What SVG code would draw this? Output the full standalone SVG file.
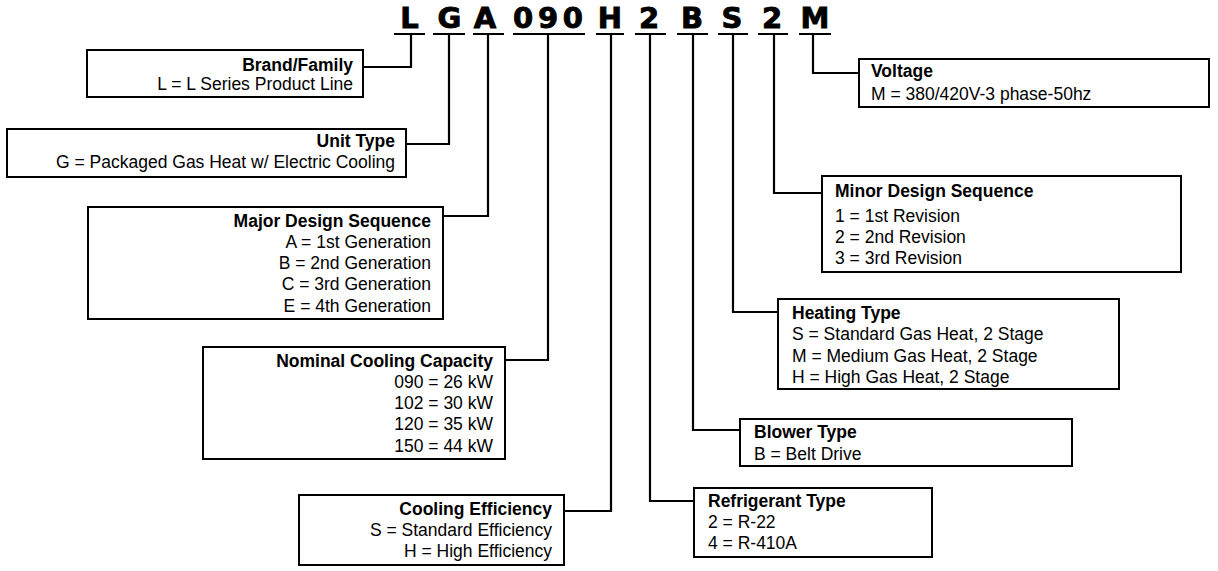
<svg xmlns="http://www.w3.org/2000/svg" width="1218" height="571" viewBox="0 0 1218 571">
<style>
.code{font-family:"DejaVu Sans",Verdana,sans-serif;font-weight:bold;font-size:29px;fill:#000;stroke:#000;stroke-width:0.9;text-anchor:middle}
.box{fill:#fff;stroke:#000;stroke-width:2}
.t{font-family:"Liberation Sans",Arial,sans-serif;font-size:17.5px;fill:#000}
.b{font-weight:bold}
.r{text-anchor:end}
.ul{stroke:#000;stroke-width:2;fill:none}
.c{stroke:#000;stroke-width:2.2;fill:none}
</style>
<rect width="1218" height="571" fill="#fff"/>
<g id="code">
<text class="code" x="409.5" y="28">L</text>
<text class="code" x="449.5" y="28">G</text>
<text class="code" x="485" y="28">A</text>
<text class="code" x="548" y="28" textLength="70" lengthAdjust="spacing">090</text>
<text class="code" x="610" y="28">H</text>
<text class="code" x="649" y="28">2</text>
<text class="code" x="692" y="28">B</text>
<text class="code" x="732" y="28">S</text>
<text class="code" x="772" y="28">2</text>
<text class="code" x="815" y="28">M</text>
<line class="ul" x1="394" y1="34" x2="425" y2="34"/>
<line class="ul" x1="433" y1="34" x2="465" y2="34"/>
<line class="ul" x1="473" y1="34" x2="504" y2="34"/>
<line class="ul" x1="513" y1="34" x2="585" y2="34"/>
<line class="ul" x1="596" y1="34" x2="624" y2="34"/>
<line class="ul" x1="635" y1="34" x2="666" y2="34"/>
<line class="ul" x1="677" y1="34" x2="708" y2="34"/>
<line class="ul" x1="718" y1="34" x2="748" y2="34"/>
<line class="ul" x1="758" y1="34" x2="788" y2="34"/>
<line class="ul" x1="799" y1="34" x2="831" y2="34"/>
</g>
<g id="connectors">
<polyline class="c" points="411,34 411,67 363,67"/>
<polyline class="c" points="449,34 449,144 406,144"/>
<polyline class="c" points="488,34 488,216 443,216"/>
<polyline class="c" points="548,34 548,360 505,360"/>
<polyline class="c" points="611,34 611,511 564,511"/>
<polyline class="c" points="650,34 650,501 694,501"/>
<polyline class="c" points="693,34 693,430 740,430"/>
<polyline class="c" points="733,34 733,312 778,312"/>
<polyline class="c" points="774,34 774,193 822,193"/>
<polyline class="c" points="813,34 813,73 859,73"/>
</g>
<g id="brand">
<rect class="box" x="87" y="50" width="276" height="47"/>
<text class="t b r" x="353" y="71">Brand/Family</text>
<text class="t r" x="353" y="90">L = L Series Product Line</text>
</g>
<g id="unit-type">
<rect class="box" x="7" y="129" width="399" height="48"/>
<text class="t b r" x="395" y="147">Unit Type</text>
<text class="t r" x="395" y="168">G = Packaged Gas Heat w/ Electric Cooling</text>
</g>
<g id="major">
<rect class="box" x="88" y="207" width="355" height="112"/>
<text class="t b r" x="431" y="227">Major Design Sequence</text>
<text class="t r" x="431" y="248">A = 1st Generation</text>
<text class="t r" x="431" y="269">B = 2nd Generation</text>
<text class="t r" x="431" y="290">C = 3rd Generation</text>
<text class="t r" x="431" y="312">E = 4th Generation</text>
</g>
<g id="capacity">
<rect class="box" x="203" y="347" width="302" height="112"/>
<text class="t b r" x="493" y="367">Nominal Cooling Capacity</text>
<text class="t r" x="493" y="388">090 = 26 kW</text>
<text class="t r" x="493" y="409">102 = 30 kW</text>
<text class="t r" x="493" y="430">120 = 35 kW</text>
<text class="t r" x="493" y="452">150 = 44 kW</text>
</g>
<g id="efficiency">
<rect class="box" x="299" y="495" width="265" height="70"/>
<text class="t b r" x="552" y="515">Cooling Efficiency</text>
<text class="t r" x="552" y="536">S = Standard Efficiency</text>
<text class="t r" x="552" y="557">H = High Efficiency</text>
</g>
<g id="voltage">
<rect class="box" x="859" y="59" width="350" height="48"/>
<text class="t b" x="871" y="77">Voltage</text>
<text class="t" x="871" y="100">M = 380/420V-3 phase-50hz</text>
</g>
<g id="minor">
<rect class="box" x="822" y="176" width="359" height="96"/>
<text class="t b" x="835" y="197">Minor Design Sequence</text>
<text class="t" x="835" y="222">1 = 1st Revision</text>
<text class="t" x="835" y="243">2 = 2nd Revision</text>
<text class="t" x="835" y="264">3 = 3rd Revision</text>
</g>
<g id="heating">
<rect class="box" x="778" y="299" width="341" height="90"/>
<text class="t b" x="792" y="319">Heating Type</text>
<text class="t" x="792" y="340">S = Standard Gas Heat, 2 Stage</text>
<text class="t" x="792" y="362">M = Medium Gas Heat, 2 Stage</text>
<text class="t" x="792" y="383">H = High Gas Heat, 2 Stage</text>
</g>
<g id="blower">
<rect class="box" x="740" y="419" width="332" height="47"/>
<text class="t b" x="754" y="438">Blower Type</text>
<text class="t" x="754" y="460">B = Belt Drive</text>
</g>
<g id="refrigerant">
<rect class="box" x="694" y="488" width="238" height="69"/>
<text class="t b" x="708" y="507">Refrigerant Type</text>
<text class="t" x="708" y="528">2 = R-22</text>
<text class="t" x="708" y="549">4 = R-410A</text>
</g>
</svg>
